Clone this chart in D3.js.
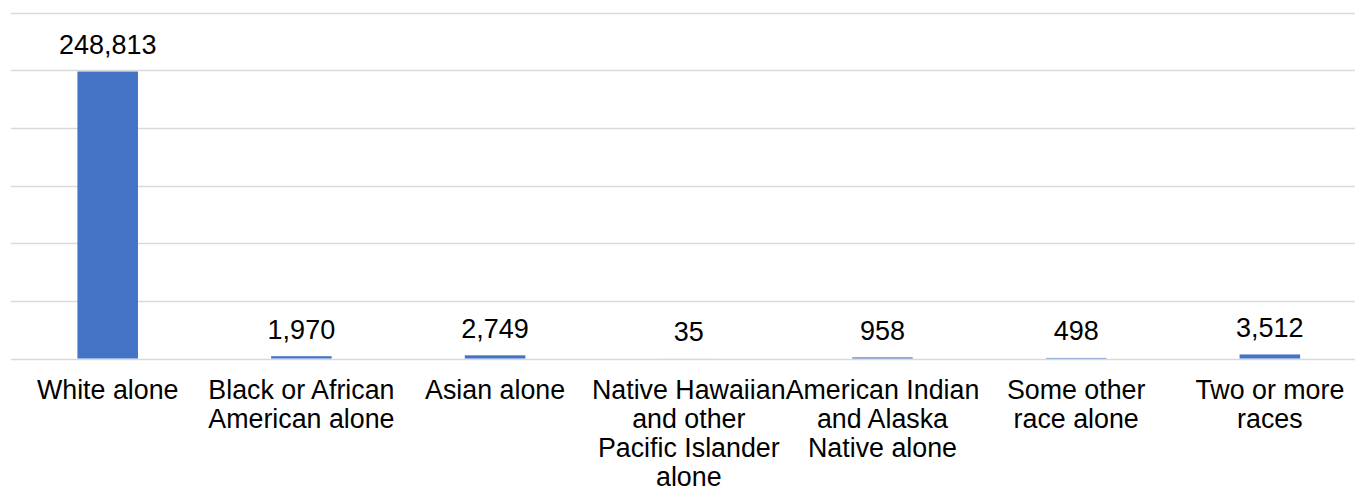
<!DOCTYPE html>
<html>
<head>
<meta charset="utf-8">
<script src="https://cdn.jsdelivr.net/npm/d3@7"></script>
<style>
  html, body { margin: 0; padding: 0; background: #fff; }
  svg { display: block; }
  text { font-family: "Liberation Sans", Arial, sans-serif; fill: #000; }
</style>
</head>
<body>
<svg id="chart" width="1355" height="492"></svg>
<script>
const categories = [
  "White alone",
  "Black or African American alone",
  "Asian alone",
  "Native Hawaiian and other Pacific Islander alone",
  "American Indian and Alaska Native alone",
  "Some other race alone",
  "Two or more races"
];
const tickLabels = [
  ["White alone"],
  ["Black or African", "American alone"],
  ["Asian alone"],
  ["Native Hawaiian", "and other", "Pacific Islander", "alone"],
  ["American Indian", "and Alaska", "Native alone"],
  ["Some other", "race alone"],
  ["Two or more", "races"]
];
const values = [248813, 1970, 2749, 35, 958, 498, 3512];
const yTicks = [0, 50000, 100000, 150000, 200000, 250000, 300000];

(function () {
const svg = d3.select("#chart");
const plotLeft = 10.85, plotRight = 1366.7, plotTop = 12.5, plotBase = 358.5;

const x = d3.scaleBand().domain(categories).range([plotLeft, plotRight]).paddingInner(0.6875).paddingOuter(0.34375);
const y = d3.scaleLinear().domain([0, 300000]).range([plotBase, plotTop]);

// gridlines
svg.append("g").selectAll("line").data(yTicks).join("line")
  .attr("x1", plotLeft).attr("x2", 1355)
  .attr("y1", d => Math.round(y(d)) + 0.5).attr("y2", d => Math.round(y(d)) + 0.5)
  .attr("stroke", "#d9d9d9").attr("stroke-width", 1.4);

// bars
svg.append("g").selectAll("rect").data(values).join("rect")
  .attr("x", (d, i) => x(categories[i]))
  .attr("width", x.bandwidth())
  .attr("y", d => y(d))
  .attr("height", d => plotBase - y(d))
  .attr("fill", "#4472C4");

// value labels
svg.append("g").selectAll("text").data(values).join("text")
  .attr("x", (d, i) => x(categories[i]) + x.bandwidth() / 2)
  .attr("y", d => y(d) - 17.5)
  .attr("text-anchor", "middle")
  .attr("font-size", 27)
  .text(d => d3.format(",")(d));

// category labels
const xAxis = d3.axisBottom(x).tickSize(0).tickFormat("");
const ax = svg.append("g").attr("transform", `translate(0,${plotBase})`).call(xAxis);
ax.select(".domain").remove();
const lab = svg.append("g").selectAll("text").data(categories).join("text")
  .attr("text-anchor", "middle")
  .attr("font-size", 26.8)
  .attr("transform", d => `translate(${x(d) + x.bandwidth() / 2},${plotBase + 40})`);
lab.each(function(d, i) {
  d3.select(this).selectAll("tspan").data(tickLabels[i]).join("tspan")
    .attr("x", 0).attr("y", (t, j) => j * 29).text(t => t);
});
})();
</script>
</body>
</html>
